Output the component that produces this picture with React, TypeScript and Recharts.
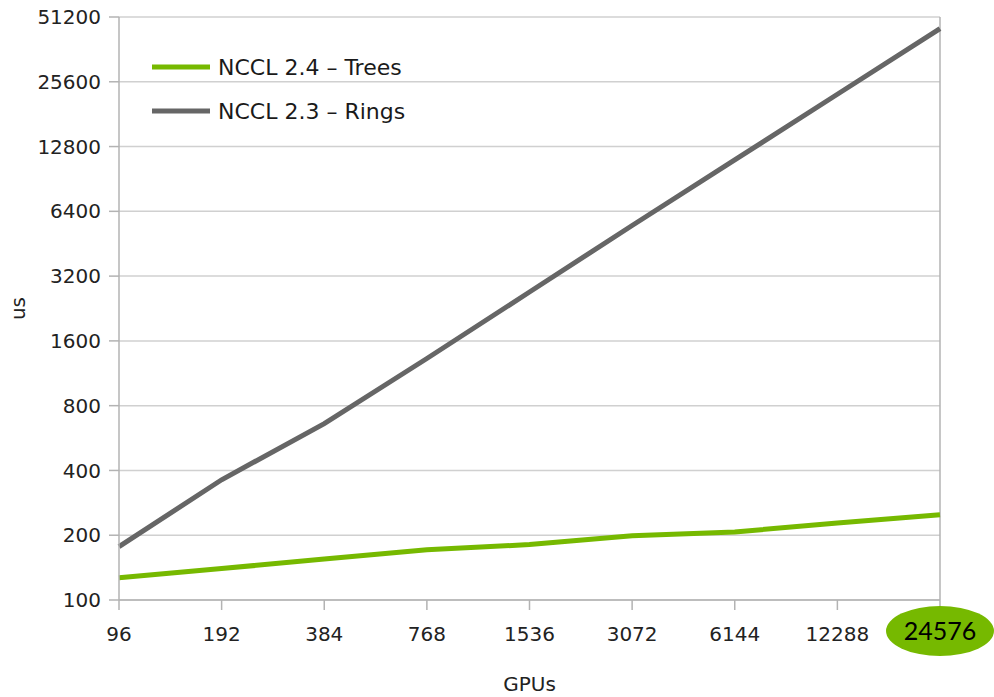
import React from "react";
import {
  LineChart,
  Line,
  XAxis,
  YAxis,
  CartesianGrid,
  ReferenceLine,
} from "recharts";

const gpus = ["96", "192", "384", "768", "1536", "3072", "6144", "12288", "24576"];
const treesUs = [127, 140, 155, 171, 181, 199, 207, 228, 249];
const ringsUs = [177, 362, 660, 1325, 2700, 5500, 11100, 22400, 45200];
const yTicks = [100, 200, 400, 800, 1600, 3200, 6400, 12800, 25600, 51200];

const data = gpus.map((g, i) => ({ gpus: g, trees: treesUs[i], rings: ringsUs[i] }));

const GREEN = "#76b900";
const GRAY = "#666666";
const AXIS = "#b3b3b3";
const FONT = "'DejaVu Sans', sans-serif";

const XTick = (props: any) => {
  const { x, y, payload } = props;
  const last = payload.value === gpus[gpus.length - 1];
  if (last) {
    return (
      <g>
        <ellipse cx={x} cy={y + 20} rx={54} ry={25} fill={GREEN} />
        <text
          x={x}
          y={y + 29}
          textAnchor="middle"
          fontFamily="Lato, sans-serif"
          fontSize={25}
          fill="#000"
        >
          {payload.value}
        </text>
      </g>
    );
  }
  return (
    <text x={x} y={y + 30} textAnchor="middle" fontFamily={FONT} fontSize={20} fill="#222">
      {payload.value}
    </text>
  );
};

const legendItems = [
  { name: "NCCL 2.4 – Trees", color: GREEN },
  { name: "NCCL 2.3 – Rings", color: GRAY },
];

export default function App() {
  return (
    <div style={{ position: "absolute", left: 0, top: 0, width: 994, height: 697, background: "#fff" }}>
      <LineChart
        width={994}
        height={697}
        data={data}
        margin={{ top: 17, right: 54, bottom: 0, left: 0 }}
      >
        <CartesianGrid stroke="#d0d0d0" strokeWidth={1.5} vertical={false} />
        <XAxis
          dataKey="gpus"
          height={97}
          tick={<XTick />}
          tickSize={10}
          tickMargin={1}
          axisLine={{ stroke: AXIS, strokeWidth: 1.5 }}
          tickLine={{ stroke: AXIS, strokeWidth: 1.5 }}
          interval={0}
          label={(p: any) => (
            <text
              x={p.viewBox.x + p.viewBox.width / 2}
              y={691}
              textAnchor="middle"
              fontFamily={FONT}
              fontSize={20}
              fill="#222"
            >
              GPUs
            </text>
          )}
        />
        <YAxis
          type="number"
          scale="log"
          domain={[100, 51200]}
          ticks={yTicks}
          allowDataOverflow
          width={119}
          tickSize={10}
          tickMargin={8}
          interval={0}
          tick={{ fontFamily: FONT, fontSize: 20, fill: "#222" }}
          axisLine={{ stroke: AXIS, strokeWidth: 1.5 }}
          tickLine={{ stroke: AXIS, strokeWidth: 1.5 }}
          label={(p: any) => (
            <text
              x={25}
              y={p.viewBox.y + p.viewBox.height / 2}
              textAnchor="middle"
              fontFamily={FONT}
              fontSize={20}
              fill="#222"
              transform={`rotate(-90 25 ${p.viewBox.y + p.viewBox.height / 2})`}
            >
              us
            </text>
          )}
        />
        <ReferenceLine x={gpus[gpus.length - 1]} stroke={AXIS} strokeWidth={1.5} />
        <Line
          type="linear"
          dataKey="rings"
          stroke={GRAY}
          strokeWidth={5}
          dot={false}
          isAnimationActive={false}
        />
        <Line
          type="linear"
          dataKey="trees"
          stroke={GREEN}
          strokeWidth={5}
          dot={false}
          isAnimationActive={false}
        />
      </LineChart>
      <div
        style={{
          position: "absolute",
          left: 150,
          top: 45,
          fontFamily: FONT,
          fontSize: 22,
          color: "#1a1a1a",
        }}
      >
        {legendItems.map((item) => (
          <div key={item.name} style={{ display: "flex", alignItems: "center", height: 44 }}>
            <svg width={68} height={10}>
              <line x1={2} y1={5} x2={60} y2={5} stroke={item.color} strokeWidth={5} />
            </svg>
            <span>{item.name}</span>
          </div>
        ))}
      </div>
    </div>
  );
}
